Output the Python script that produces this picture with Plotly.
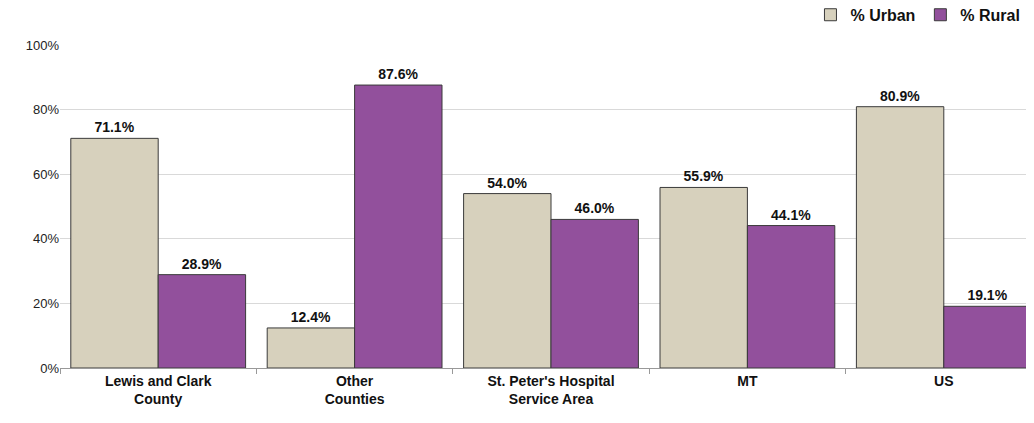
import plotly.graph_objects as go

# Données : part urbaine / rurale par zone
categories = ["Lewis and Clark<br>County", "Other<br>Counties",
              "St. Peter's Hospital<br>Service Area", "MT", "US"]
urban = [0.711, 0.124, 0.540, 0.559, 0.809]
rural = [0.289, 0.876, 0.460, 0.441, 0.191]
y_ticks = [0, 0.2, 0.4, 0.6, 0.8, 1.0]

FONT = "Liberation Sans, Arial, sans-serif"
label_font = dict(family=FONT, size=14, color="#111111", weight="bold")

fig = go.Figure()
fig.add_trace(go.Bar(
    x=categories, y=urban, name="% Urban",
    marker=dict(color="#D7D1BD", line=dict(color="#3a3a3a", width=1)),
    text=[f"{v:.1%}" for v in urban], textposition="outside",
    textfont=label_font, cliponaxis=False,
))
fig.add_trace(go.Bar(
    x=categories, y=rural, name="% Rural",
    marker=dict(color="#92509C", line=dict(color="#3a3a3a", width=1)),
    text=[f"{v:.1%}" for v in rural], textposition="outside",
    textfont=label_font, cliponaxis=False,
))

# la page a une marge de 8px : on décale tout en conséquence
fig.update_layout(
    width=1034, height=423,
    margin=dict(l=52, r=0, t=37, b=63, autoexpand=False),
    paper_bgcolor="white", plot_bgcolor="white",
    barmode="group", bargap=0.11, bargroupgap=0,
    font=dict(family=FONT, size=12, color="#111111"),
    showlegend=True,
    legend=dict(
        orientation="h", x=0.984, xref="container", xanchor="right",
        y=1.146, yref="paper", yanchor="top",
        font=dict(family=FONT, size=16, color="#111111", weight="bold"),
        traceorder="normal", bgcolor="rgba(0,0,0,0)",
    ),
)
fig.update_xaxes(
    range=[-0.5, 4.5], tickson="boundaries",
    ticks="outside", ticklen=5, tickcolor="#999999",
    showline=True, linecolor="#999999", linewidth=1,
    tickfont=dict(family=FONT, size=14, color="#111111", weight="bold"),
    showgrid=False,
)
fig.update_yaxes(
    range=[0, 1.0], tickvals=y_ticks, tickformat=".0%",
    showgrid=True, gridcolor="#D9D9D9", gridwidth=1,
    zeroline=False, showline=False,
    tickfont=dict(family=FONT, size=13, color="#222222"),
    ticks="", ticklen=0,
)

fig.write_html("out.html")
